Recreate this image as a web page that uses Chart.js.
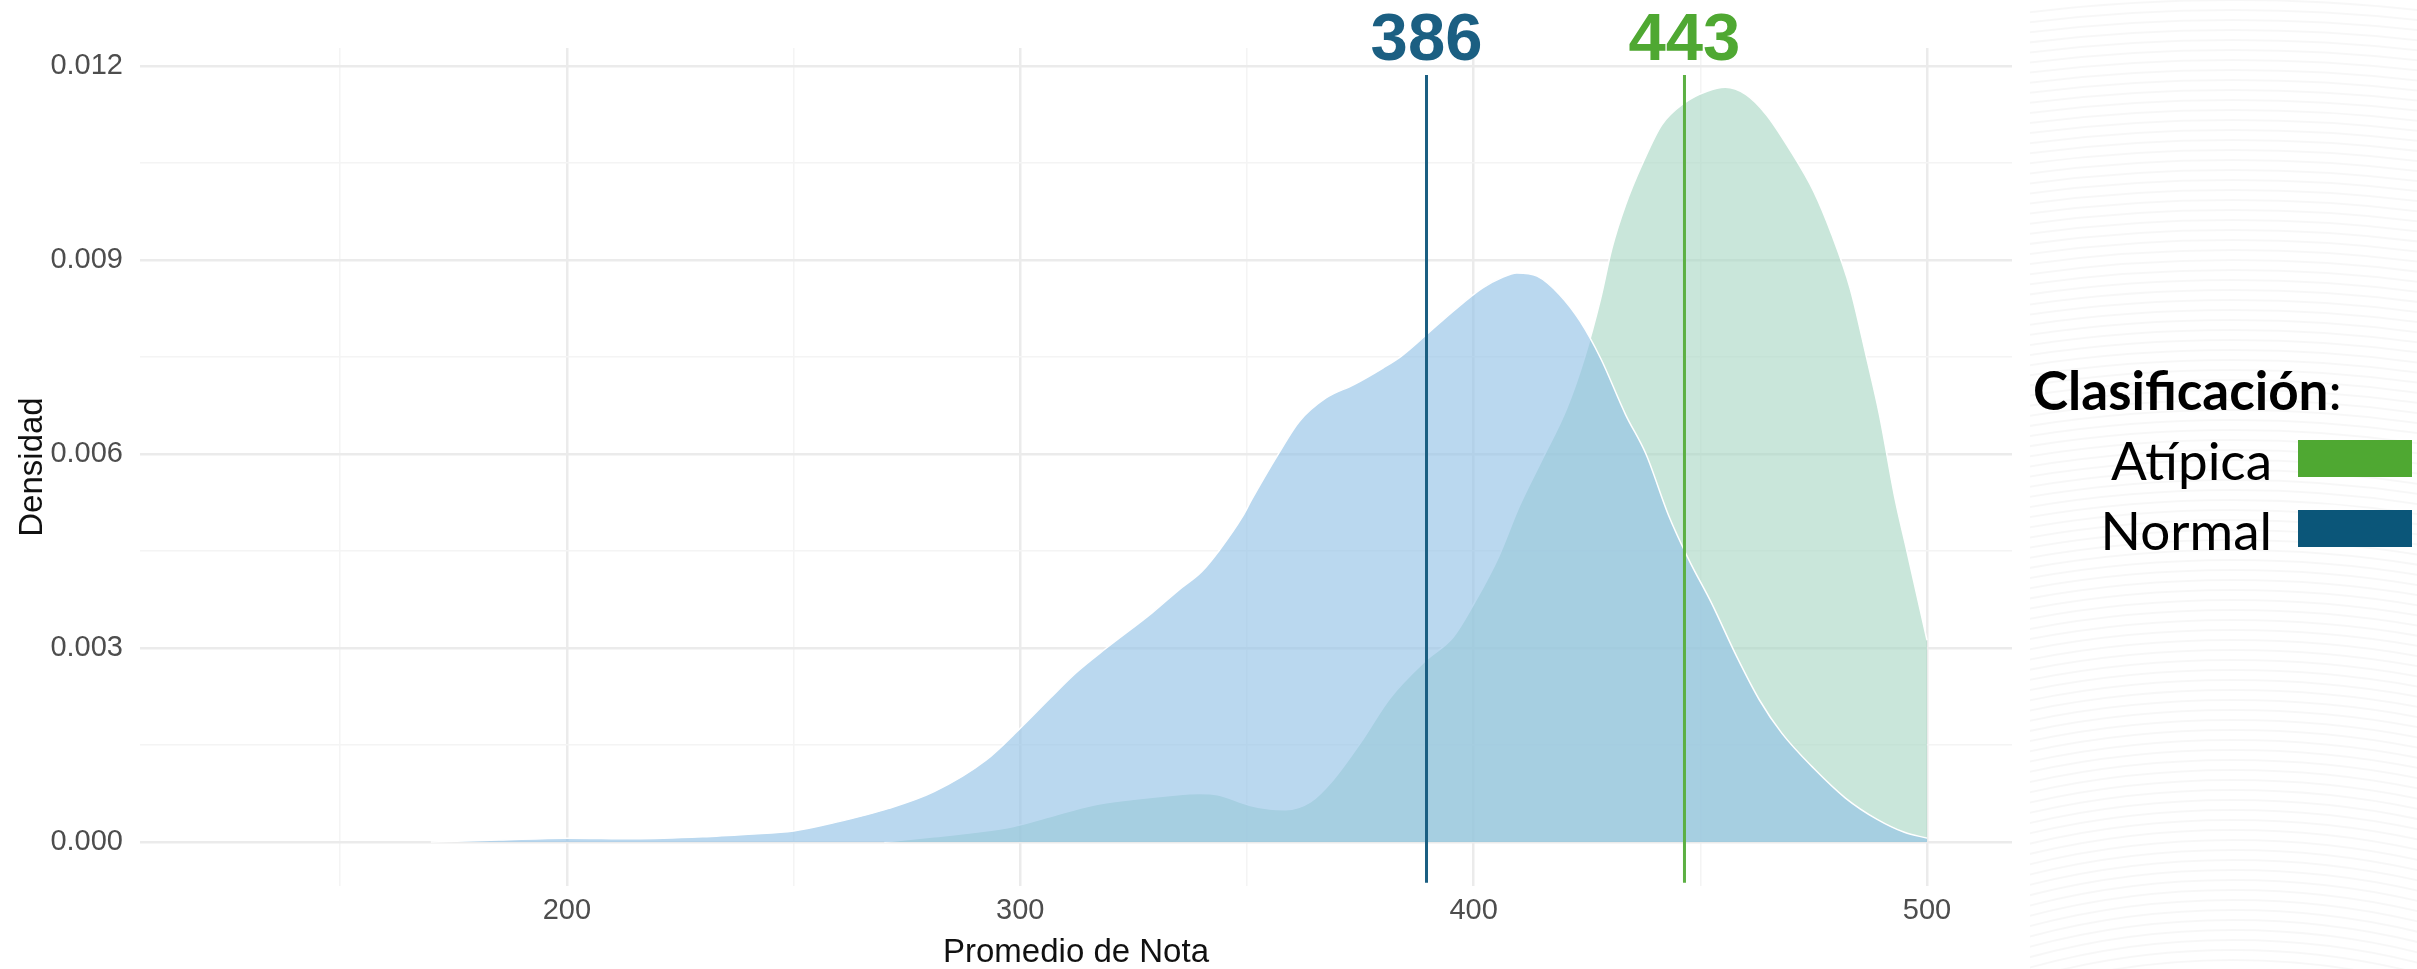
<!DOCTYPE html>
<html>
<head>
<meta charset="utf-8">
<script src="https://cdn.jsdelivr.net/npm/chart.js@4.4.1/dist/chart.umd.min.js"></script>
<style>
  html, body { margin: 0; padding: 0; background: #fff; overflow: hidden; }
</style>
</head>
<body>
<canvas id="densityChart" width="2417" height="969"></canvas>
<script>
// Densidad de "Promedio de Nota" por clasificación
const normalX = [170, 185, 200, 215, 230, 240, 250, 259, 271, 281, 292.5, 300, 306.5, 312.5, 319, 329, 335, 340, 344, 349,
  351, 357, 361.5, 367.5, 373.5, 380, 384, 389.5, 395.5, 402, 406, 409.5, 414, 419, 423.5, 428, 433.5, 438, 443, 447.5,
  452.5, 458, 463, 468, 475, 482, 489, 495, 500];
const normalY = [0, 0.00003, 0.00006, 0.00005, 0.00008, 0.00012, 0.00017, 0.0003, 0.00052, 0.00078, 0.00127, 0.00176, 0.00222, 0.00263, 0.003, 0.00354, 0.0039, 0.00418, 0.00452, 0.00503,
  0.00529, 0.00601, 0.0065, 0.00687, 0.00707, 0.00733, 0.00751, 0.00784, 0.00821, 0.00857, 0.00872, 0.0088, 0.00875, 0.00846, 0.00805, 0.00748, 0.00661, 0.006, 0.00505, 0.00436,
  0.00369, 0.00287, 0.0022, 0.00168, 0.00114, 0.00068, 0.00035, 0.00015, 0.00006];

const atipicaX = [270, 281, 290, 298.5, 306.5, 316, 325, 333, 339.5, 343.5, 350.5, 355, 358.5, 364, 369, 375, 381.5, 389.5, 395.5, 400.5,
  405.5, 410, 415, 420.5, 424.5, 428, 430.5, 433.5, 437.5, 441.5, 446.5, 451.5, 455.5, 460, 464.5, 469.5, 475, 479, 483, 486.5,
  489.5, 493, 495.5, 500];
const atipicaY = [0, 0.00008, 0.00015, 0.00024, 0.00039, 0.00057, 0.00066, 0.00072, 0.00075, 0.00073, 0.00057, 0.00051, 0.0005, 0.00062, 0.00096, 0.00153, 0.00222, 0.00281, 0.00317, 0.00374,
  0.00441, 0.00518, 0.0059, 0.0067, 0.0075, 0.0084, 0.00918, 0.00985, 0.01053, 0.01109, 0.01143, 0.01161, 0.01167, 0.01156, 0.01125, 0.01073, 0.01006, 0.00939, 0.00857, 0.00754,
  0.00661, 0.00529, 0.00452, 0.00312];

// vertical reference lines and their labels
const meanPositions = [389.6, 446.5];
const meanLabels = ['386', '443'];
const meanColors = ['#1b5f82', '#4fa832'];
const meanLineColors = ['#1b5f82', '#5cb043'];
const meanLineRange = [-0.00063, 0.01186];

// axis ticks
const xTicks = [150, 200, 250, 300, 350, 400, 450, 500];
const yTicks = [0, 0.0015, 0.003, 0.0045, 0.006, 0.0075, 0.009, 0.0105, 0.012];

const legendTitle = 'Clasificación';
const legendNames = ['Atípica', 'Normal'];
const legendColors = ['#4fa832', '#0b5679'];

const axisFont = '"Liberation Sans", Arial, sans-serif';
const legendFont = 'Lato, "Open Sans", sans-serif';

const isMajorX = v => v % 100 === 0;
const isMajorY = v => Math.abs(v / 0.003 - Math.round(v / 0.003)) < 1e-6;

const toPoints = (xs, ys) => xs.map((x, i) => ({ x: x, y: ys[i] }));
const meanLine = i => meanLineRange.map(y => ({ x: meanPositions[i], y: y }));

// faint ring pattern behind the legend
const backdrop = {
  id: 'backdrop',
  beforeDraw(chart) {
    const ctx = chart.ctx;
    ctx.save();
    ctx.fillStyle = '#ffffff';
    ctx.fillRect(0, 0, chart.width, chart.height);
    ctx.beginPath();
    ctx.rect(2030, 0, chart.width - 2030, chart.height);
    ctx.clip();
    ctx.strokeStyle = 'rgba(0,0,0,0.03)';
    ctx.lineWidth = 2;
    for (let r = 400; r <= 1700; r += 10) {
      ctx.beginPath();
      ctx.arc(2233, 1700, r, 0, Math.PI * 2);
      ctx.stroke();
    }
    ctx.restore();
  }
};

const meanText = {
  id: 'meanText',
  afterDatasetsDraw(chart) {
    const ctx = chart.ctx;
    const x = chart.scales.x;
    ctx.save();
    ctx.font = 'bold 67px ' + axisFont;
    ctx.textAlign = 'center';
    ctx.textBaseline = 'alphabetic';
    meanPositions.forEach((v, i) => {
      ctx.fillStyle = meanColors[i];
      ctx.fillText(meanLabels[i], x.getPixelForValue(v), 60);
    });
    ctx.restore();
  }
};

const sideLegend = {
  id: 'sideLegend',
  afterDraw(chart) {
    const ctx = chart.ctx;
    ctx.save();
    ctx.fillStyle = '#000';
    ctx.textBaseline = 'alphabetic';
    ctx.textAlign = 'left';
    ctx.font = 'bold 53px ' + legendFont;
    ctx.fillText(legendTitle, 2033, 410);
    const w = ctx.measureText(legendTitle).width;
    ctx.font = '53px ' + legendFont;
    ctx.fillText(':', 2033 + w, 410);
    ctx.textAlign = 'right';
    legendNames.forEach((name, i) => {
      const top = 440 + i * 70;
      ctx.fillStyle = '#000';
      ctx.fillText(name, 2272, top + 40);
      ctx.fillStyle = legendColors[i];
      ctx.fillRect(2298, top, 114, 37);
    });
    ctx.restore();
  }
};

const ctx = document.getElementById('densityChart').getContext('2d');
const densityChart = new Chart(ctx, {
  type: 'line',
  data: {
    datasets: [
      {
        label: 'Media Normal',
        data: meanLine(0),
        borderColor: meanLineColors[0],
        borderWidth: 3,
        pointRadius: 0,
        fill: false
      },
      {
        label: 'Media Atípica',
        data: meanLine(1),
        borderColor: meanLineColors[1],
        borderWidth: 3,
        pointRadius: 0,
        fill: false
      },
      {
        label: 'Normal',
        data: toPoints(normalX, normalY),
        borderColor: '#ffffff',
        borderWidth: 1.5,
        backgroundColor: 'rgba(146, 193, 230, 0.63)',
        fill: 'origin',
        pointRadius: 0,
        cubicInterpolationMode: 'monotone'
      },
      {
        label: 'Atípica',
        data: toPoints(atipicaX, atipicaY),
        borderColor: '#ffffff',
        borderWidth: 1.5,
        backgroundColor: 'rgba(165, 213, 193, 0.6)',
        fill: 'origin',
        pointRadius: 0,
        cubicInterpolationMode: 'monotone'
      }
    ]
  },
  options: {
    responsive: false,
    animation: false,
    devicePixelRatio: 1,
    layout: { padding: { top: 48, right: 405, left: 0, bottom: 0 } },
    plugins: {
      legend: { display: false },
      tooltip: { enabled: false }
    },
    scales: {
      x: {
        type: 'linear',
        min: 105.84,
        max: 518.74,
        afterBuildTicks: axis => { axis.ticks = xTicks.map(v => ({ value: v })); },
        afterFit: scale => { scale.height = 83; },
        border: { display: false },
        grid: {
          drawTicks: false,
          color: c => isMajorX(c.tick.value) ? '#ebebeb' : '#f4f4f4',
          lineWidth: c => isMajorX(c.tick.value) ? 2.5 : 1.5
        },
        ticks: {
          padding: 8,
          color: '#4d4d4d',
          font: { family: axisFont, size: 29 },
          maxRotation: 0,
          autoSkip: false,
          callback: v => isMajorX(v) ? String(v) : ''
        },
        title: {
          display: true,
          text: 'Promedio de Nota',
          color: '#111',
          font: { family: axisFont, size: 33, lineHeight: 1 },
          padding: { top: 0, bottom: 0 }
        }
      },
      y: {
        type: 'linear',
        min: -0.00068,
        max: 0.012278,
        afterBuildTicks: axis => { axis.ticks = yTicks.map(v => ({ value: v })); },
        afterFit: scale => { scale.width = 140; },
        border: { display: false },
        grid: {
          drawTicks: false,
          color: c => isMajorY(c.tick.value) ? '#ebebeb' : '#f4f4f4',
          lineWidth: c => isMajorY(c.tick.value) ? 2.5 : 1.5
        },
        ticks: {
          padding: 17,
          color: '#4d4d4d',
          font: { family: axisFont, size: 29 },
          autoSkip: false,
          callback: v => isMajorY(v) ? v.toFixed(3) : ''
        },
        title: {
          display: true,
          text: 'Densidad',
          color: '#111',
          font: { family: axisFont, size: 33 },
          padding: { top: 13, bottom: 0 }
        }
      }
    }
  },
  plugins: [backdrop, meanText, sideLegend]
});
</script>
</body>
</html>
